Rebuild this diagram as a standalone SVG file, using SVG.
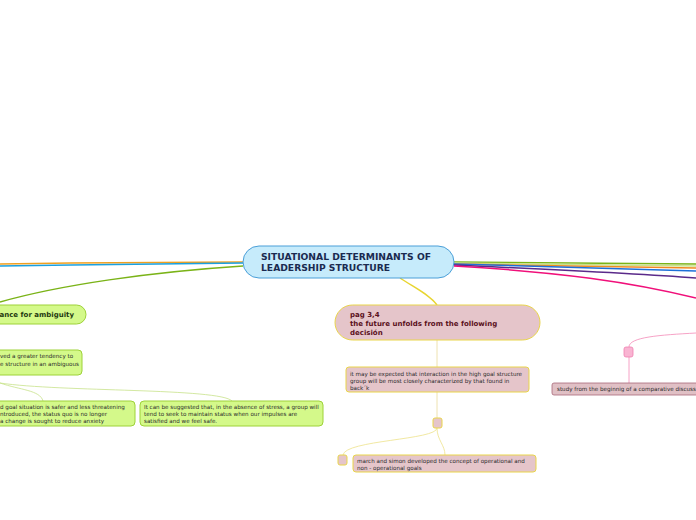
<svg xmlns="http://www.w3.org/2000/svg" width="696" height="520" viewBox="0 0 696 520">
<style>
text{font-family:"DejaVu Sans","Verdana",sans-serif}
.t{font-size:5.6px;fill:#2a2a2a}
.tb{font-size:7px;font-weight:bold}
.g{fill:#d4f98a;stroke:#9ed239;stroke-width:1}
.p{fill:#e5c5ca;stroke:#e9d54a;stroke-width:1}
.c{fill:none}
</style>
<rect width="696" height="520" fill="#fff"/>
<g id="connectors" class="c">
<path d="M243,262 C150,262 80,263 0,264" stroke="#f0a020" stroke-width="1.5"/>
<path d="M243,263 C150,264 80,265 0,266" stroke="#1aa0e0" stroke-width="1.5"/>
<path d="M243,266 C150,272 60,285 0,302" stroke="#7ab317" stroke-width="1.5"/>
<path d="M454,262 C560,263 630,264 696,264" stroke="#7ab317" stroke-width="1.5"/>
<path d="M454,263 C560,264 630,265 696,266" stroke="#c8e28a" stroke-width="1.5"/>
<path d="M454,264 C560,266 630,267 696,268" stroke="#f08a20" stroke-width="1.5"/>
<path d="M454,264 C560,267 630,269 696,271" stroke="#1e70d8" stroke-width="1.5"/>
<path d="M454,265 C560,270 630,273 696,278" stroke="#5a2a8a" stroke-width="1.5"/>
<path d="M454,266 C560,272 630,282 696,298" stroke="#f0107a" stroke-width="1.5"/>
<path d="M400,278 C415,288 430,295 437,305" stroke="#e8d530" stroke-width="1.5"/>
<path d="M437,340 L437,367" stroke="#eee2b0" stroke-width="1"/>
<path d="M437,392 L437,418" stroke="#eee2b0" stroke-width="1"/>
<path d="M437,428 C437,440 345,440 343,455" stroke="#eee28a" stroke-width="0.8"/>
<path d="M437,428 C437,440 445,445 445,455" stroke="#eee28a" stroke-width="0.8"/>
<path d="M0,383 C20,390 40,390 43,401" stroke="#c8e28a" stroke-width="0.8"/>
<path d="M0,383 C60,392 220,388 232,401" stroke="#c8e28a" stroke-width="0.8"/>
<path d="M629,347 C629,337 660,335 696,333" stroke="#f48ab8" stroke-width="0.8"/>
<path d="M629,357 L629,383" stroke="#f48ab8" stroke-width="0.8"/>
</g>
<g id="central">
<rect x="243" y="246" width="211" height="32" rx="16" fill="#c6ebfb" stroke="#4a9fd8" stroke-width="1"/>
<text x="261" y="260" style="font-size:9.2px;font-weight:bold;fill:#1a2a50">SITUATIONAL DETERMINANTS OF</text>
<text x="261" y="271" style="font-size:9.2px;font-weight:bold;fill:#1a2a50">LEADERSHIP STRUCTURE</text>
</g>
<g id="n-ambiguity">
<rect x="-40" y="305" width="126" height="19" rx="9.5" class="g" stroke="#8dc21f"/>
<text x="74" y="317" class="tb" text-anchor="end" fill="#1f3a10">ance for ambiguity</text>
</g>
<g id="n-tendency">
<rect x="-40" y="350" width="122" height="25" rx="4" class="g"/>
<text x="0" y="358" class="t">ved a greater tendency to</text>
<text x="0" y="366" class="t">e structure in an ambiguous</text>
</g>
<g id="n-safer">
<rect x="-40" y="401" width="175" height="25" rx="4" class="g"/>
<text x="0" y="409" class="t">d goal situation is safer and less threatening</text>
<text x="0" y="416" class="t">ntroduced, the status quo is no longer</text>
<text x="0" y="423" class="t">a change is sought to reduce anxiety</text>
</g>
<g id="n-stress">
<rect x="140" y="401" width="183" height="25" rx="4" class="g"/>
<text x="144" y="409" class="t">It can be suggested that, in the absence of stress, a group will</text>
<text x="144" y="416" class="t">tend to seek to maintain status when our impulses are</text>
<text x="144" y="423" class="t">satisfied and we feel safe.</text>
</g>
<g id="n-pag">
<rect x="335" y="305" width="205" height="35" rx="17.5" class="p"/>
<text x="350" y="317" class="tb" fill="#5a1020">pag 3,4</text>
<text x="350" y="326" class="tb" fill="#5a1020">the future unfolds from the following</text>
<text x="350" y="335" class="tb" fill="#5a1020">decisión</text>
</g>
<g id="n-interaction">
<rect x="346" y="367" width="183" height="25" rx="3" class="p"/>
<text x="350" y="376" class="t">it may be expected that interaction in the high goal structure</text>
<text x="350" y="383" class="t">group will be most closely characterized by that found in</text>
<text x="350" y="390" class="t">back´k</text>
</g>
<g id="n-sq1">
<rect x="433" y="418" width="9" height="10" rx="2" class="p"/>
</g>
<g id="n-sq2">
<rect x="338" y="455" width="9" height="10" rx="2" class="p"/>
</g>
<g id="n-march">
<rect x="353" y="455" width="183" height="17" rx="3" class="p"/>
<text x="357" y="463" class="t">march and simon developed the concept of operational and</text>
<text x="357" y="470" class="t">non - operational goals</text>
</g>
<g id="n-sq3">
<rect x="624" y="347" width="9" height="10" rx="2" fill="#f9b4d2" stroke="#f080b0" stroke-width="0.8"/>
</g>
<g id="n-study">
<rect x="552" y="383" width="180" height="12" rx="2" fill="#e0c0c5" stroke="#a86878" stroke-width="0.8"/>
<text x="557" y="391" class="t">study from the beginnig of a comparative discussi</text>
</g>
</svg>
